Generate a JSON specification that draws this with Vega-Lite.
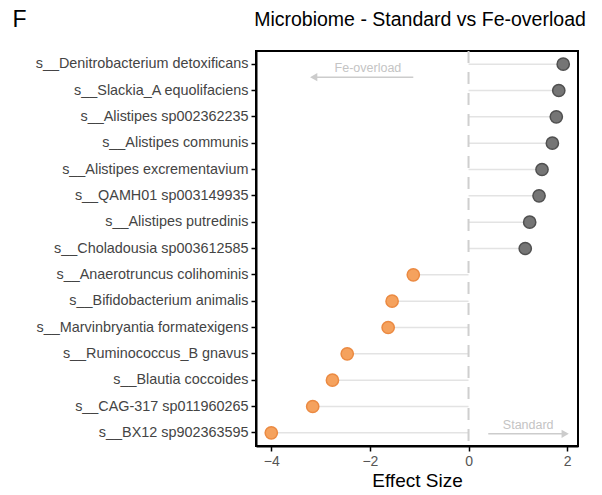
{
  "$schema": "https://vega.github.io/schema/vega-lite/v6.json",
  "width": 322,
  "height": 395,
  "autosize": {"type": "none"},
  "padding": {"left": 256, "top": 51, "right": 24, "bottom": 49},
  "background": "white",
  "config": {
    "font": "Liberation Sans",
    "view": {"stroke": "black", "strokeWidth": 2},
    "axis": {"grid": false}
  },
  "title": {
    "text": "Microbiome - Standard vs Fe-overload",
    "fontSize": 19.5,
    "fontWeight": "normal",
    "color": "black",
    "frame": "group",
    "anchor": "middle",
    "offset": -22,
    "dx": 3
  },
  "datasets": {
    "main": [
      {"species": "s__Denitrobacterium detoxificans", "effect": 1.92, "group": "Standard"},
      {"species": "s__Slackia_A equolifaciens", "effect": 1.83, "group": "Standard"},
      {"species": "s__Alistipes sp002362235", "effect": 1.78, "group": "Standard"},
      {"species": "s__Alistipes communis", "effect": 1.70, "group": "Standard"},
      {"species": "s__Alistipes excrementavium", "effect": 1.49, "group": "Standard"},
      {"species": "s__QAMH01 sp003149935", "effect": 1.43, "group": "Standard"},
      {"species": "s__Alistipes putredinis", "effect": 1.24, "group": "Standard"},
      {"species": "s__Choladousia sp003612585", "effect": 1.15, "group": "Standard"},
      {"species": "s__Anaerotruncus colihominis", "effect": -1.12, "group": "Fe-overload"},
      {"species": "s__Bifidobacterium animalis", "effect": -1.55, "group": "Fe-overload"},
      {"species": "s__Marvinbryantia formatexigens", "effect": -1.63, "group": "Fe-overload"},
      {"species": "s__Ruminococcus_B gnavus", "effect": -2.46, "group": "Fe-overload"},
      {"species": "s__Blautia coccoides", "effect": -2.76, "group": "Fe-overload"},
      {"species": "s__CAG-317 sp011960265", "effect": -3.16, "group": "Fe-overload"},
      {"species": "s__BX12 sp902363595", "effect": -4.0, "group": "Fe-overload"}
    ],
    "arrows": [
      {"label": "Fe-overload", "species": "s__Denitrobacterium detoxificans", "textX": -2.04, "start": -1.12, "end": -3.14},
      {"label": "Standard", "species": "s__BX12 sp902363595", "textX": 1.21, "start": 0.40, "end": 1.96}
    ]
  },
  "layer": [
    {
      "data": {"name": "main"},
      "mark": {"type": "rule", "color": "#e3e3e3", "strokeWidth": 1.5},
      "encoding": {
        "y": {
          "field": "species",
          "type": "nominal",
          "scale": {
            "type": "band",
            "paddingInner": 0,
            "paddingOuter": 0,
            "domain": [
              "s__Denitrobacterium detoxificans",
              "s__Slackia_A equolifaciens",
              "s__Alistipes sp002362235",
              "s__Alistipes communis",
              "s__Alistipes excrementavium",
              "s__QAMH01 sp003149935",
              "s__Alistipes putredinis",
              "s__Choladousia sp003612585",
              "s__Anaerotruncus colihominis",
              "s__Bifidobacterium animalis",
              "s__Marvinbryantia formatexigens",
              "s__Ruminococcus_B gnavus",
              "s__Blautia coccoides",
              "s__CAG-317 sp011960265",
              "s__BX12 sp902363595"
            ]
          },
          "axis": {
            "title": "F",
            "titleAngle": 0,
            "titleFontSize": 23,
            "titleFontWeight": "normal",
            "titleColor": "black",
            "titleAlign": "left",
            "titleBaseline": "middle",
            "titleX": -244,
            "titleY": -32,
            "labelFontSize": 14.4,
            "labelColor": "#444444",
            "labelPadding": 3,
            "tickColor": "black",
            "tickWidth": 1.5,
            "tickSize": 5,
            "domainColor": "black",
            "domainWidth": 2,
            "labelLimit": 400
          }
        },
        "x": {
          "field": "effect",
          "type": "quantitative",
          "scale": {"domain": [-4.31, 2.22], "nice": false, "zero": false},
          "axis": {
            "title": "Effect Size",
            "values": [-4, -2, 0, 2],
            "titleFontSize": 19,
            "titleFontWeight": "normal",
            "titleColor": "black",
            "titlePadding": 3,
            "labelFontSize": 14,
            "labelColor": "#555555",
            "labelPadding": 3,
            "tickColor": "black",
            "tickWidth": 1.5,
            "tickSize": 5,
            "domainColor": "black",
            "domainWidth": 2
          }
        },
        "x2": {"datum": 0}
      }
    },
    {
      "data": {"values": [{"zero": 0}]},
      "mark": {"type": "rule", "color": "#cfcfcf", "strokeWidth": 2, "strokeDash": [12, 9]},
      "encoding": {"x": {"field": "zero", "type": "quantitative", "axis": {"title": "Effect Size"}}}
    },
    {
      "data": {"name": "main"},
      "mark": {"type": "point", "filled": true, "size": 150, "strokeWidth": 1.5, "opacity": 1},
      "encoding": {
        "y": {"field": "species", "type": "nominal"},
        "x": {"field": "effect", "type": "quantitative", "axis": {"title": "Effect Size"}},
        "fill": {"field": "group", "type": "nominal", "scale": {"domain": ["Standard", "Fe-overload"], "range": ["#757575", "#F5A25E"]}, "legend": null},
        "stroke": {"field": "group", "type": "nominal", "scale": {"domain": ["Standard", "Fe-overload"], "range": ["#505050", "#EB8A42"]}, "legend": null}
      }
    },
    {
      "data": {"name": "arrows"},
      "transform": [{"filter": "datum.label == 'Fe-overload'"}],
      "mark": {"type": "text", "color": "#c4c4c4", "fontSize": 12.5, "yOffset": 4},
      "encoding": {
        "y": {"field": "species", "type": "nominal"},
        "x": {"field": "textX", "type": "quantitative", "axis": {"title": "Effect Size"}},
        "text": {"field": "label"}
      }
    },
    {
      "data": {"name": "arrows"},
      "transform": [{"filter": "datum.label == 'Fe-overload'"}],
      "mark": {"type": "rule", "color": "#cccccc", "strokeWidth": 1.5, "yOffset": 13},
      "encoding": {
        "y": {"field": "species", "type": "nominal"},
        "x": {"field": "start", "type": "quantitative", "axis": {"title": "Effect Size"}},
        "x2": {"field": "end"}
      }
    },
    {
      "data": {"name": "arrows"},
      "transform": [{"filter": "datum.label == 'Fe-overload'"}],
      "mark": {"type": "point", "shape": "triangle-left", "filled": true, "color": "#cccccc", "size": 70, "opacity": 1, "yOffset": 13},
      "encoding": {
        "y": {"field": "species", "type": "nominal"},
        "x": {"field": "end", "type": "quantitative", "axis": {"title": "Effect Size"}}
      }
    },
    {
      "data": {"name": "arrows"},
      "transform": [{"filter": "datum.label == 'Standard'"}],
      "mark": {"type": "text", "color": "#c4c4c4", "fontSize": 12.5, "yOffset": -8},
      "encoding": {
        "y": {"field": "species", "type": "nominal"},
        "x": {"field": "textX", "type": "quantitative", "axis": {"title": "Effect Size"}},
        "text": {"field": "label"}
      }
    },
    {
      "data": {"name": "arrows"},
      "transform": [{"filter": "datum.label == 'Standard'"}],
      "mark": {"type": "rule", "color": "#cccccc", "strokeWidth": 1.5, "yOffset": 1},
      "encoding": {
        "y": {"field": "species", "type": "nominal"},
        "x": {"field": "start", "type": "quantitative", "axis": {"title": "Effect Size"}},
        "x2": {"field": "end"}
      }
    },
    {
      "data": {"name": "arrows"},
      "transform": [{"filter": "datum.label == 'Standard'"}],
      "mark": {"type": "point", "shape": "triangle-right", "filled": true, "color": "#cccccc", "size": 70, "opacity": 1, "yOffset": 1},
      "encoding": {
        "y": {"field": "species", "type": "nominal"},
        "x": {"field": "end", "type": "quantitative", "axis": {"title": "Effect Size"}}
      }
    }
  ]
}
